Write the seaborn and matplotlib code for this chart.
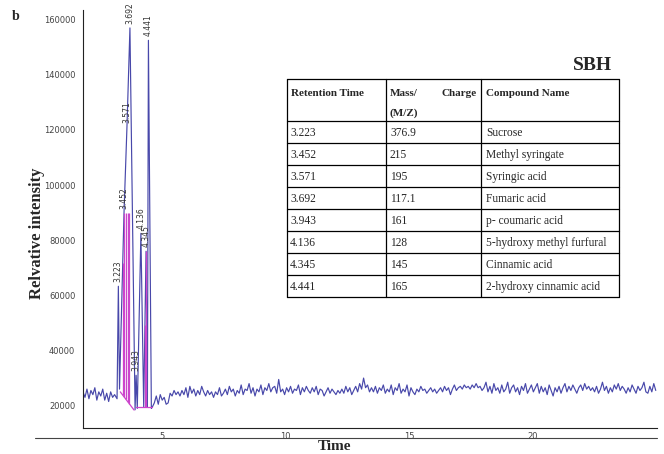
import numpy as np
import pandas as pd
import matplotlib
matplotlib.use("Agg")
import matplotlib.pyplot as plt
import seaborn as sns
from matplotlib.lines import Line2D
from matplotlib.ticker import MultipleLocator

# ---------------- data ----------------
retention_times = ["3.223", "3.452", "3.571", "3.692", "3.943", "4.136", "4.345", "4.441"]
mz_values = ["376.9", "215", "195", "117.1", "161", "128", "145", "165"]
compounds = ["Sucrose", "Methyl syringate", "Syringic acid", "Fumaric acid",
             "p- coumaric acid", "5-hydroxy methyl furfural", "Cinnamic acid",
             "2-hydroxy cinnamic acid"]
peak_heights = [63300, 90000, 121000, 157000, 31000, 82500, 76000, 152500]

# peak-region trace (time, intensity), including valleys between peaks
seg_t = [3.17, 3.223, 3.27, 3.452, 3.571, 3.692, 3.90, 3.943, 3.99, 4.136, 4.25, 4.345, 4.40, 4.441, 4.56]
seg_v = [22500, 63300, 26000, 90000, 121000, 157000, 18500, 31000, 19000, 82500, 19500, 76000, 19500, 152500, 19000]

# baseline noise before the peaks (thousands), sampled every 0.08 min from 1.79
noise_left_start, noise_step = 1.79, 0.08
noise_left = [25.0, 23.0, 26.0, 22.5, 25.5, 24.0, 26.5, 22.0, 25.0, 23.5,
              26.0, 22.0, 24.5, 21.5, 25.0, 23.0, 24.0]
# baseline noise after the peaks (thousands), sampled every 0.08 min from 4.60
noise_right_start = 4.60
noise_right = [
    19.5, 21.0, 23.5, 20.5, 24.0, 22.0, 23.0, 20.5, 21.0, 24.5, 23.5, 25.5, 24.0, 25.0, 23.5, 25.5,
    24.0, 26.5, 23.0, 27.0, 24.5, 26.0, 23.5, 25.5, 24.0, 27.0, 25.0, 23.5, 25.5, 24.0, 25.0, 23.0,
    25.0, 24.0, 26.5, 23.5, 24.5, 26.0, 24.0, 27.0, 25.0, 26.0, 23.5, 25.5, 24.5, 27.5, 24.0, 26.0,
    25.5, 28.0, 24.5, 26.5, 23.5, 26.0, 25.0, 27.5, 24.0, 26.5, 25.5, 28.0, 25.0, 26.5, 27.0, 24.5,
    29.5, 25.0, 26.0, 24.0, 26.5, 25.0, 27.0, 24.5, 26.0, 25.5, 27.5, 24.0, 26.5, 25.0, 27.0, 25.5,
    24.5, 26.5, 25.0, 27.0, 24.0, 26.0, 25.5, 23.5, 25.0, 26.5, 24.5, 26.0, 25.0, 24.0, 25.5, 24.5,
    26.0, 24.5, 27.0, 25.0, 26.5, 24.0, 25.5, 27.0, 25.0, 28.0, 26.0, 30.0, 26.5, 27.5, 25.0, 26.5,
    25.0, 27.0, 24.5, 26.5, 25.5, 27.5, 24.5, 26.0, 25.0, 27.5, 24.0, 26.5, 25.5, 28.0, 24.5, 26.0,
    25.0, 27.5, 23.5, 26.5, 25.0, 24.0, 26.0, 25.0, 27.0, 25.5, 26.0, 24.5, 25.5, 26.5, 25.0, 26.0,
    24.5, 25.5, 26.5, 25.0, 27.0, 25.5, 26.5, 24.0, 26.0, 27.5, 25.5, 26.5, 27.0, 26.0, 27.5, 26.5,
    27.0, 26.0, 27.5, 26.5, 28.0, 26.5, 27.0, 25.5, 26.5, 28.5, 25.0, 27.0, 24.5, 28.0, 25.5, 26.5,
    24.5, 27.5, 25.0, 26.0, 28.5, 24.5, 26.5, 27.5, 25.0, 26.5, 24.0, 27.0, 25.5, 28.0, 24.5, 26.0,
    27.5, 25.0, 26.5, 28.0, 24.5, 27.0, 25.0, 26.5, 24.0, 27.5, 25.5, 23.5, 26.5, 25.0, 27.0, 24.5,
    26.5, 28.0, 25.0, 27.0, 25.5, 27.5, 26.0, 24.5, 26.5, 27.5, 25.5, 28.0, 26.0, 27.0, 25.5, 26.5,
    25.0, 27.0, 24.5, 26.0, 28.5, 25.5, 27.0, 24.5, 26.5, 25.0, 27.5, 26.0, 28.0, 25.5, 27.0, 26.0,
    24.5, 26.5, 25.0, 27.5, 26.0, 24.5, 27.0, 25.5, 26.5, 28.5, 25.0, 24.5, 27.0, 25.0, 28.0, 25.5,
]

# integration baseline (magenta) and drop-line positions
base1_t, base1_v = [3.30, 3.86], [25000, 18400]
base2_t, base2_v = [3.92, 4.58], [19400, 19400]
drop_times = [3.40, 3.452, 3.52, 3.60, 3.66, 4.30, 4.345]
drop_cap = 90000

# ---------------- build trace ----------------
t_left = noise_left_start + noise_step * np.arange(len(noise_left))
t_right = noise_right_start + noise_step * np.arange(len(noise_right))
time = np.concatenate([t_left, seg_t, t_right])
inten = np.concatenate([np.array(noise_left) * 1000, seg_v, np.array(noise_right) * 1000])
df = pd.DataFrame({"Time": time, "Intensity": inten})

W, H = 664, 454
sns.set_style("white")
plt.rcParams["font.family"] = ["DejaVu Sans"]
fig = plt.figure(figsize=(W / 100, H / 100), dpi=100)

def fx(px):
    return px / W

def fy(py):
    return 1 - py / H

ax = fig.add_axes([fx(83), fy(427.7), fx(657) - fx(83), fy(10) - fy(427.7)])
blue = "#4848aa"
magenta = "#cc44cc"

sns.lineplot(data=df, x="Time", y="Intensity", ax=ax, color=blue, lw=0.85,
             estimator=None, sort=False)

# integration baseline and drop lines
ax.plot(base1_t, base1_v, color=magenta, lw=0.9)
ax.plot(base2_t, base2_v, color=magenta, lw=0.9)
bt = base1_t + base2_t
bv = base1_v + base2_v
for t in drop_times:
    top = min(np.interp(t, seg_t, seg_v), drop_cap)
    bot = np.interp(t, bt, bv)
    ax.vlines(t, bot, top, color=magenta, lw=0.9)

# peak labels
for lab, h in zip(retention_times, peak_heights):
    ax.text(float(lab), h + 1500, lab, rotation=90, ha="center", va="bottom",
            fontsize=5.5, color="#333333")

ax.set_xlim(1.79, 25.05)
ax.set_ylim(12000, 163500)
ax.xaxis.set_minor_locator(MultipleLocator(1))
ax.yaxis.set_minor_locator(MultipleLocator(5000))
ax.set_yticks(np.arange(20000, 160001, 20000))
ax.set_xticks([5, 10, 15, 20, 25])
ax.set_xticklabels(["5", "10", "15", "20", ""])
ax.tick_params(axis="both", which="both", direction="out", length=3, width=0.6,
               color="#555555", labelsize=6, labelcolor="#444444", pad=1.5)
ax.tick_params(axis="y", which="major", length=4)
ax.tick_params(axis="x", which="major", pad=0)
for s in ["top", "right"]:
    ax.spines[s].set_visible(False)
for s in ["left", "bottom"]:
    ax.spines[s].set_linewidth(0.8)
    ax.spines[s].set_color("#222222")
ax.set_xlabel("")
ax.set_ylabel("")

# extra long rule beneath the tick labels
fig.add_artist(Line2D([fx(35), fx(657)], [fy(438), fy(438)], color="#444444", lw=0.8))

serif = ["Liberation Serif", "DejaVu Serif"]
fig.text(fx(37), fy(233), "Relvative intensity", rotation=90, ha="center", va="center",
         fontsize=12, fontweight="bold", family=serif)
fig.text(fx(335), fy(447), "Time", ha="center", va="center",
         fontsize=11, fontweight="bold", family=serif)
fig.text(fx(12), fy(17), "b", ha="left", va="center", fontsize=10, fontweight="bold", family=serif)
fig.text(fx(612), fy(65), "SBH", ha="right", va="center", fontsize=14, fontweight="bold", family=serif)

# ---------------- table ----------------
tl, tr = 287, 619
col_x = [tl, 386, 481, tr]
t_top, h_bot, row_h = 79, 121, 22
n = len(retention_times)
t_bot = h_bot + n * row_h
lw_t = 0.9
for x in col_x:
    fig.add_artist(Line2D([fx(x), fx(x)], [fy(t_top), fy(t_bot)], color="black", lw=lw_t))
for y in [t_top, h_bot] + [h_bot + (i + 1) * row_h for i in range(n)]:
    fig.add_artist(Line2D([fx(tl), fx(tr)], [fy(y), fy(y)], color="black", lw=lw_t))

hdr_kw = dict(fontsize=8, fontweight="bold", family=serif, va="center")
fig.text(fx(291), fy(93), "Retention Time", ha="left", **hdr_kw)
fig.text(fx(390), fy(93), "Mass/", ha="left", **hdr_kw)
fig.text(fx(477), fy(93), "Charge", ha="right", **hdr_kw)
fig.text(fx(390), fy(113), "(M/Z)", ha="left", **hdr_kw)
fig.text(fx(486), fy(93), "Compound Name", ha="left", **hdr_kw)

cell_kw = dict(fontsize=8.3, family=serif, va="center", ha="left")
for i, (rt, mz, cp) in enumerate(zip(retention_times, mz_values, compounds)):
    yc = h_bot + row_h * (i + 0.5) + 1
    fig.text(fx(290), fy(yc), rt, **cell_kw)
    fig.text(fx(390), fy(yc), mz, **cell_kw)
    fig.text(fx(486), fy(yc), cp, **cell_kw)

fig.savefig("out.png", dpi=100)
